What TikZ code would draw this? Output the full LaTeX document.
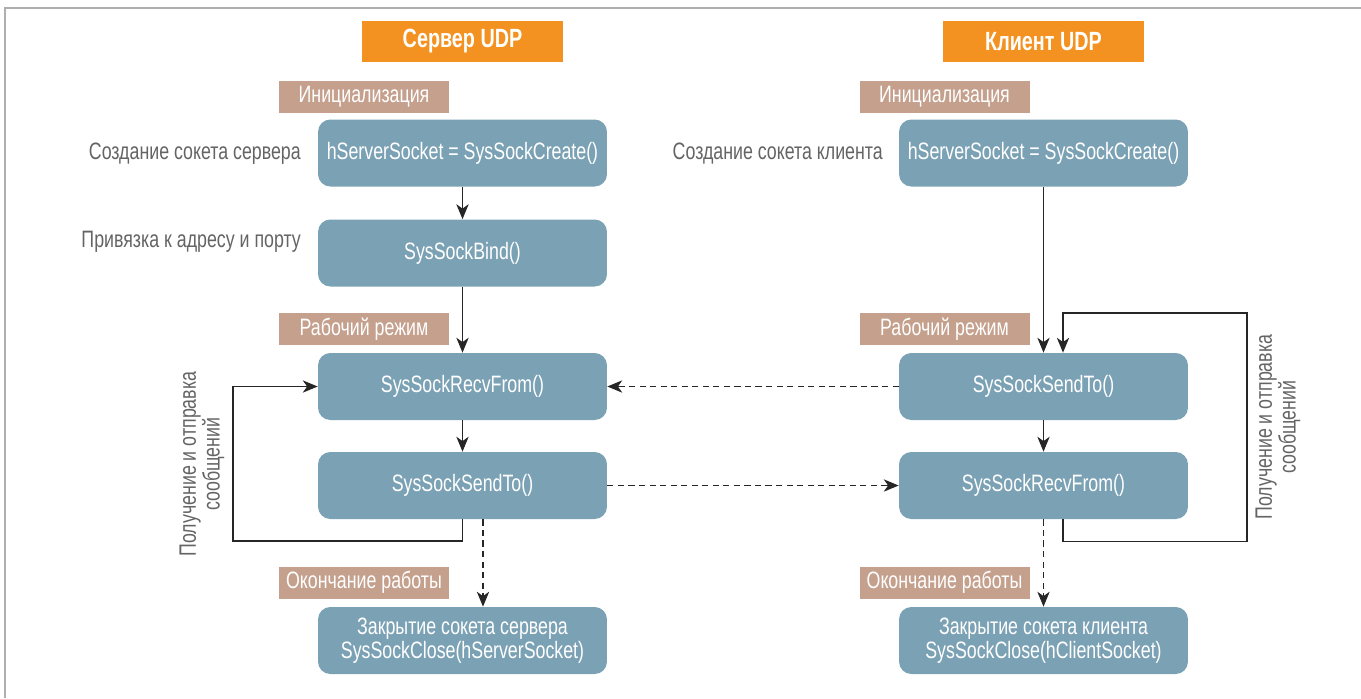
\documentclass[tikz,border=0pt]{standalone}
\usepackage{fontspec}
\setmainfont{Liberation Sans}[FakeStretch=0.75]
\usetikzlibrary{arrows.meta}
\definecolor{boxblue}{RGB}{123,161,180}
\definecolor{tagbrown}{RGB}{196,160,141}
\definecolor{headorange}{RGB}{243,146,32}
\definecolor{sidegray}{RGB}{100,100,100}
\definecolor{framegray}{RGB}{175,175,175}
\begin{document}
\begin{tikzpicture}[x=0.02cm, y=-0.02cm,
  font=\fontsize{13.5}{13.5}\selectfont,
  fn/.style={fill=boxblue, rounded corners=7pt, text=white, align=center,
    minimum width=5.78cm, minimum height=1.34cm, inner sep=0pt},
  tag/.style={fill=tagbrown, text=white, minimum width=3.4cm,
    minimum height=0.64cm, inner sep=0pt},
  head/.style={fill=headorange, text=white, font=\fontsize{15}{16}\selectfont\bfseries,
    minimum width=4.02cm, minimum height=0.82cm, inner sep=0pt},
  side/.style={text=sidegray},
  arr/.style={draw=black!85, line width=0.75pt, -{Stealth[length=8.5pt,width=7pt,inset=2.5pt]}},
  darr/.style={arr, dash pattern=on 3.5pt off 2.5pt}]
\useasboundingbox (0,0) rectangle (1361,698);
\draw[framegray, line width=1.1pt] (5,698) -- (5,8) -- (1361,8);
\node[head] (h1) at (462.5,41.5) {Сервер UDP};
\node[head] (h2) at (1043.5,41.5) {Клиент UDP};
\node[tag] (t1) at (364,96.5) {Инициализация};
\node[tag] (t2) at (944.5,96.5) {Инициализация};
\node[tag] (t3) at (364,329) {Рабочий режим};
\node[tag] (t4) at (944.5,329) {Рабочий режим};
\node[tag] (t5) at (364,582.5) {Окончание работы};
\node[tag] (t6) at (944.5,582.5) {Окончание работы};
\node[fn] (s1) at (462.5,153) {hServerSocket = SysSockCreate()};
\node[fn] (s2) at (462.5,253) {SysSockBind()};
\node[fn] (s3) at (462.5,386.5) {SysSockRecvFrom()};
\node[fn] (s4) at (462.5,485.5) {SysSockSendTo()};
\node[fn] (s5) at (462.5,640.5) {Закрытие сокета сервера\\SysSockClose(hServerSocket)};
\node[fn] (c1) at (1043.5,153) {hServerSocket = SysSockCreate()};
\node[fn] (c3) at (1043.5,386.5) {SysSockSendTo()};
\node[fn] (c4) at (1043.5,485.5) {SysSockRecvFrom()};
\node[fn] (c5) at (1043.5,640.5) {Закрытие сокета клиента\\SysSockClose(hClientSocket)};
\node[side, anchor=east] (l1) at (307,154) {Создание сокета сервера};
\node[side, anchor=east] (l2) at (307,242) {Привязка к адресу и порту};
\node[side, anchor=east] (l3) at (889,154) {Создание сокета клиента};
\node[side, rotate=90, align=center] (l4) at (202,464) {Получение и отправка\\сообщений};
\node[side, rotate=90, align=center] (l5) at (1278,427) {Получение и отправка\\сообщений};
\path[arr] (s1) -- (s2);
\path[arr] (s2) -- (s3);
\path[arr] (s3) -- (s4);
\path[arr] (s4.south) |- (233,541) |- (s3.west);
\path[darr] ([xshift=0.41cm]s4.south) -- ([xshift=0.41cm]s5.north);
\path[arr] (c1) -- (c3);
\path[arr] (c3) -- (c4);
\path[arr] ([xshift=0.39cm]c4.south) -- ++(0,22) -| (1247,313) -| ([xshift=0.39cm]c3.north);
\path[darr] (c4) -- (c5);
\path[darr] (c3.west) -- (s3.east);
\path[darr] (s4.east) -- (c4.west);
\end{tikzpicture}
\end{document}
